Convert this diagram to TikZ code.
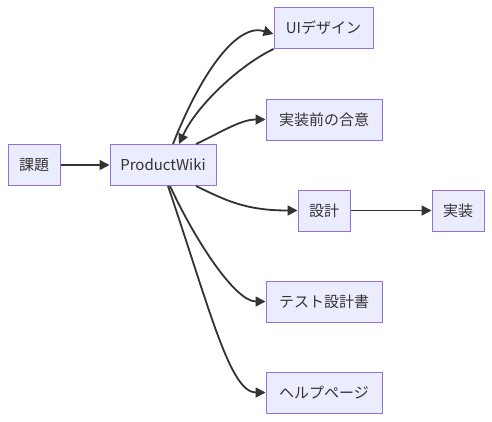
\documentclass[tikz,border=0pt]{standalone}
\usepackage{fontspec}
\setmainfont{Noto Sans CJK JP}
\usepackage{xcolor}
\usetikzlibrary{arrows.meta,positioning}
\definecolor{boxfill}{HTML}{ECECFF}
\definecolor{boxline}{HTML}{9370DB}
\definecolor{linegray}{HTML}{333333}

\begin{document}
\begin{tikzpicture}[x=1pt, y=-1pt,
    box/.style={draw=boxline, line width=1pt, rectangle, fill=boxfill, text=linegray, minimum height=41pt, inner sep=2pt, font=\fontsize{15}{18}\selectfont},
    link/.style={draw=linegray, line width=1.8pt, -{Triangle[length=10pt,width=10pt]}}]
    \useasboundingbox (0,0) rectangle (492,421);
    \node[box, minimum width=52pt] at (34,165) (kadai) {課題};
    \node[box, minimum width=106pt] at (163,165) (wiki) {ProductWiki};
    \node[box, minimum width=99pt] at (323.5,28) (ui) {UIデザイン};
    \node[box, minimum width=116pt] at (324,119.5) (agree) {実装前の合意};
    \node[box, minimum width=52pt] at (324,210.5) (design) {設計};
    \node[box, minimum width=52pt] at (458,210.5) (impl) {実装};
    \node[box, minimum width=116pt] at (324,301.5) (test) {テスト設計書};
    \node[box, minimum width=116pt] at (324,392.5) (help) {ヘルプページ};

    \draw[link] (kadai) -- (wiki);
    \draw[link] ([xshift=10pt]wiki.north) .. controls (198,80) and (235,22) .. ([yshift=-6pt]ui.west);
    \draw[link] (ui.south west) .. controls (240,65) and (197,105) .. ([xshift=16pt]wiki.north);
    \draw[link] ([xshift=33pt]wiki.north) .. controls (220,133) and (240,119.5) .. (agree.west);
    \draw[link] ([xshift=33pt]wiki.south) .. controls (225,200) and (245,210.5) .. (design.west);
    \draw[link] (design) -- (impl);
    \draw[link] ([xshift=7pt]wiki.south) .. controls (195,240) and (235,301.5) .. (test.west);
    \draw[link] ([xshift=5pt]wiki.south) .. controls (210,310) and (230,392.5) .. (help.west);
\end{tikzpicture}
\end{document}
